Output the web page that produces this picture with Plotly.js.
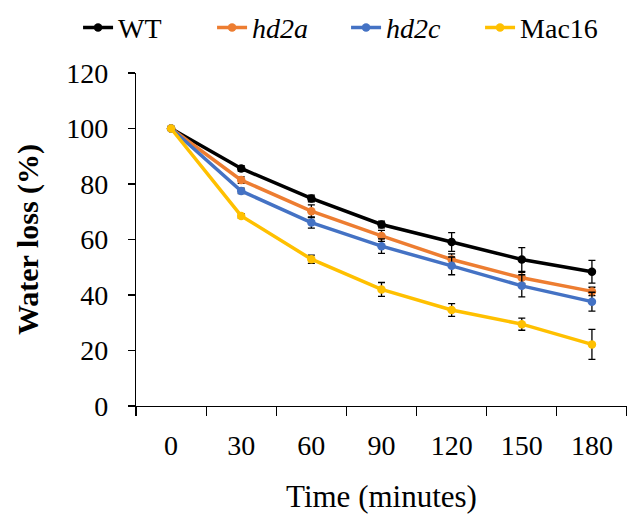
<!DOCTYPE html>
<html>
<head>
<meta charset="utf-8">
<script src="https://cdn.plot.ly/plotly-3.0.1.min.js"></script>
<style>html,body{margin:0;padding:0;background:#fff;}#chart{width:627px;height:514px;}</style>
</head>
<body>
<div id="chart"></div>
<script>
var timeLabels = ["0", "30", "60", "90", "120", "150", "180"];
var seriesNames = ["WT", "<i>hd2a</i>", "<i>hd2c</i>", "Mac16"];
var wtValues    = [100, 85.6, 74.8, 65.4, 59.1, 52.8, 48.4];
var wtErrors    = [0, 1.0, 1.2, 1.2, 3.4, 4.3, 4.1];
var hd2aValues  = [100, 81.4, 70.2, 61.3, 52.8, 46.2, 41.3];
var hd2aErrors  = [0, 1.2, 2.3, 2.0, 2.0, 2.0, 1.5];
var hd2cValues  = [100, 77.5, 66.1, 57.6, 50.5, 43.3, 37.6];
var hd2cErrors  = [0, 1.0, 2.0, 2.6, 3.2, 4.0, 3.4];
var mac16Values = [100, 68.5, 52.9, 42.0, 34.6, 29.5, 22.2];
var mac16Errors = [0, 0.8, 1.5, 2.5, 2.3, 2.2, 5.4];
var colors = ["#000000", "#ED7D31", "#4472C4", "#FFC000"];

var values = [wtValues, hd2aValues, hd2cValues, mac16Values];
var errors = [wtErrors, hd2aErrors, hd2cErrors, mac16Errors];

var font = "'Liberation Serif', 'Times New Roman', serif";
var traces = values.map(function (v, i) {
  return {
    type: "scatter",
    mode: "lines+markers",
    name: seriesNames[i],
    x: timeLabels,
    y: v,
    line: {color: colors[i], width: 3.5},
    marker: {color: colors[i], size: 8.5, symbol: "circle"},
    error_y: {type: "data", array: errors[i], visible: true, color: "#000000", thickness: 1.3, width: 3.5}
  };
});

var layout = {
  width: 627,
  height: 514,
  margin: {l: 136, r: 0, t: 73, b: 108, autoexpand: false},
  paper_bgcolor: "#ffffff",
  plot_bgcolor: "#ffffff",
  font: {family: font, size: 28, color: "#000000"},
  showlegend: true,
  legend: {
    orientation: "h",
    xref: "paper", yref: "paper",
    x: -0.118, y: 1.211, xanchor: "left", yanchor: "top",
    font: {family: font, size: 28, color: "#000000"},
    entrywidth: 89,
    tracegroupgap: 0,
    bgcolor: "rgba(0,0,0,0)"
  },
  xaxis: {
    type: "category",
    tickson: "boundaries",
    ticks: "outside",
    ticklen: 9,
    tickwidth: 1.2,
    tickcolor: "#000000",
    showline: true,
    linecolor: "#000000",
    linewidth: 1.2,
    showgrid: false,
    zeroline: false,
    range: [-0.5, 6.5],
    ticklabelstandoff: 14,
    tickfont: {family: font, size: 28, color: "#000000"},
    title: {text: "Time (minutes)", font: {family: font, size: 31, color: "#000000"}, standoff: 27}
  },
  yaxis: {
    range: [0, 120],
    dtick: 20,
    ticks: "outside",
    ticklen: 7,
    tickwidth: 1.2,
    tickcolor: "#000000",
    showline: true,
    linecolor: "#000000",
    linewidth: 1.2,
    showgrid: false,
    zeroline: false,
    ticklabelstandoff: 14,
    tickfont: {family: font, size: 28, color: "#000000"},
    title: {text: "<b>Water loss (%)</b>", font: {family: font, size: 30, color: "#000000"}, standoff: 18}
  }
};

Plotly.newPlot("chart", traces, layout, {displayModeBar: false, staticPlot: true});
</script>
</body>
</html>
